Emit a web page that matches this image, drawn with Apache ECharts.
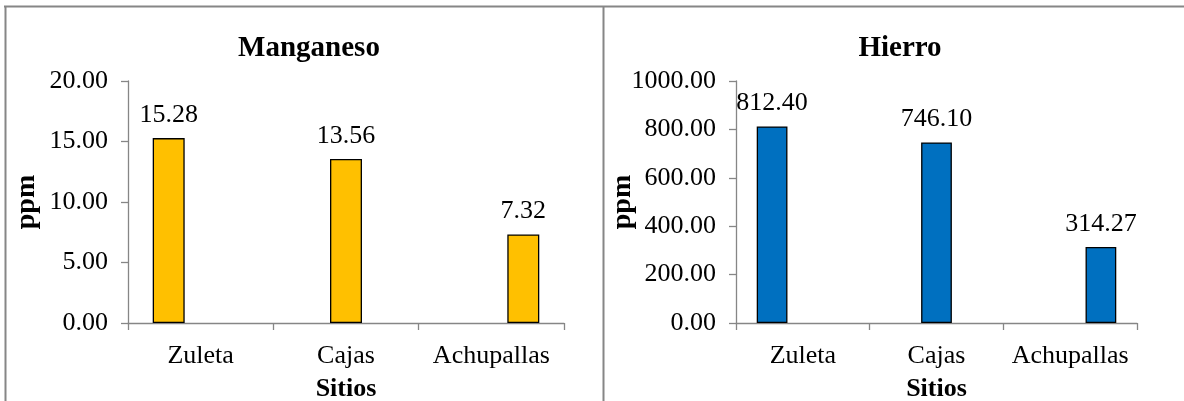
<!DOCTYPE html>
<html>
<head>
<meta charset="utf-8">
<script src="https://cdn.jsdelivr.net/npm/echarts@6/dist/echarts.min.js"></script>
<style>
  html, body { margin: 0; padding: 0; background: #fff; }
  #chart { width: 1184px; height: 401px; }
</style>
</head>
<body>
<div id="chart"></div>
<script>
const categories = ['Zuleta', 'Cajas', 'Achupallas'];
const manganesoValues = [15.28, 13.56, 7.32];
const hierroValues = [812.40, 746.10, 314.27];
const manganesoTicks = { min: 0, max: 20, interval: 5 };
const hierroTicks = { min: 0, max: 1000, interval: 200 };
const titles = ['Manganeso', 'Hierro'];
const xAxisTitle = 'Sitios';
const yAxisTitle = 'ppm';

const FONT = '"Liberation Serif", "Times New Roman", serif';
const AXIS_COLOR = '#868686';

function buildSeries(values, gridIdx, color, gap) {
  return values.map((v, i) => ({
    type: 'bar',
    xAxisIndex: gridIdx,
    yAxisIndex: gridIdx,
    data: values.map((_, j) => (j === i ? v : '-')),
    barGap: '0%',
    barCategoryGap: gap,
    itemStyle: { color: color, borderColor: '#000', borderWidth: 1.3 },
    label: {
      show: true,
      position: 'top',
      distance: 10,
      fontFamily: FONT,
      fontSize: 26,
      color: '#000',
      formatter: p => Number(p.value).toFixed(2)
    },
    emphasis: { disabled: true },
    animation: false
  }));
}

function xAxis(gridIdx) {
  return {
    type: 'category',
    gridIndex: gridIdx,
    data: categories,
    axisLine: { lineStyle: { color: AXIS_COLOR, width: 1.3 } },
    axisTick: { show: true, length: 7, lineStyle: { color: AXIS_COLOR, width: 1.3 } },
    axisLabel: { fontFamily: FONT, fontSize: 26, color: '#000', margin: 20, interval: 0, hideOverlap: false },
    name: xAxisTitle,
    nameLocation: 'middle',
    nameGap: 53,
    nameMoveOverlap: false,
    nameTextStyle: { fontFamily: FONT, fontSize: 26, fontWeight: 'bold', color: '#000' }
  };
}

function yAxis(gridIdx, ticks, nameGap) {
  return {
    type: 'value',
    gridIndex: gridIdx,
    min: ticks.min,
    max: ticks.max,
    interval: ticks.interval,
    splitLine: { show: false },
    axisLine: { show: true, lineStyle: { color: AXIS_COLOR, width: 1.3 } },
    axisTick: { show: true, length: 7, lineStyle: { color: AXIS_COLOR, width: 1.3 } },
    axisLabel: { fontFamily: FONT, fontSize: 26, color: '#000', margin: 20,
                 formatter: v => v.toFixed(2) },
    name: yAxisTitle,
    nameLocation: 'middle',
    nameRotate: 90,
    nameGap: nameGap,
    nameMoveOverlap: false,
    nameTextStyle: { fontFamily: FONT, fontSize: 28, fontWeight: 'bold', color: '#000' }
  };
}

const chart = echarts.init(document.getElementById('chart'), null, { renderer: 'canvas' });
chart.setOption({
  backgroundColor: '#fff',
  animation: false,
  title: [
    { text: titles[0], left: 304, top: 29, textAlign: 'center',
      textStyle: { fontFamily: FONT, fontSize: 29, fontWeight: 'bold', color: '#000' } },
    { text: titles[1], left: 895, top: 29, textAlign: 'center',
      textStyle: { fontFamily: FONT, fontSize: 29, fontWeight: 'bold', color: '#000' } }
  ],
  grid: [
    { left: 128, right: 620, top: 81, bottom: 78, outerBoundsMode: 'none', containLabel: false },
    { left: 736, right: 47, top: 81, bottom: 78, outerBoundsMode: 'none', containLabel: false }
  ],
  xAxis: [xAxis(0), xAxis(1)],
  yAxis: [yAxis(0, manganesoTicks, 87), yAxis(1, hierroTicks, 99)],
  series: [
    ...buildSeries(manganesoValues, 0, '#FFC000', '34%'),
    ...buildSeries(hierroValues, 1, '#0070C0', '31%')
  ],
  graphic: [
    { type: 'line', shape: { x1: 4, y1: 6.5, x2: 1184, y2: 6.5 }, style: { stroke: AXIS_COLOR, lineWidth: 2 }, silent: true },
    { type: 'line', shape: { x1: 5.5, y1: 6, x2: 5.5, y2: 401 }, style: { stroke: AXIS_COLOR, lineWidth: 2 }, silent: true },
    { type: 'line', shape: { x1: 603.5, y1: 6, x2: 603.5, y2: 401 }, style: { stroke: AXIS_COLOR, lineWidth: 2 }, silent: true }
  ]
});
</script>
</body>
</html>
